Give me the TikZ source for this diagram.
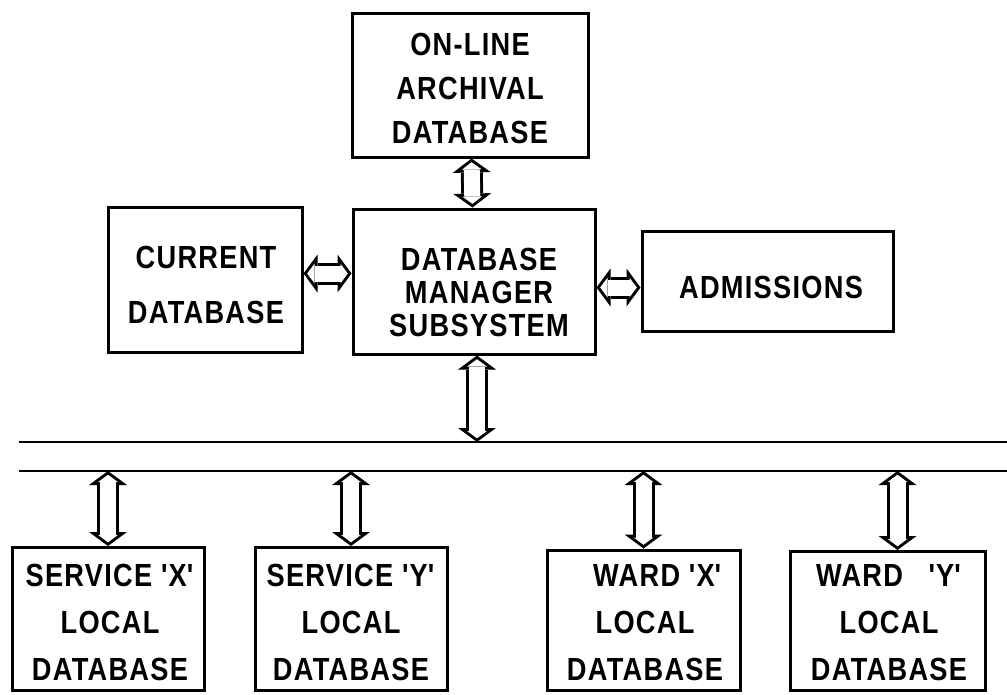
\documentclass[tikz,border=0pt]{standalone}
\usepackage{fontspec}
\setmainfont{Liberation Sans}[FakeStretch=0.85, LetterSpace=4]
\usetikzlibrary{arrows.meta, positioning}
\tikzset{
	unit/.style={rectangle, draw, line width=3pt, inner sep=0pt},
	caption/.style={align=center, inner sep=0pt, font=\bfseries\fontsize{32}{#1}\selectfont},
	caption/.default=46,
	% hollow two-headed arrow: black outline, white inside
	link/.style={line width=22pt,
		{Triangle[length=14pt, width=38pt, line width=0pt]}-{Triangle[length=14pt, width=38pt, line width=0pt]},
		postaction={draw=white, line width=16pt, shorten <=3.7pt, shorten >=3.7pt,
			{Triangle[length=7.3pt, width=19.7pt, line width=0pt]}-{Triangle[length=7.3pt, width=19.7pt, line width=0pt]}}},
	bus/.style={line width=2.6pt},
}
\newcommand{\q}{\textquotesingle}

\begin{document}
\begin{tikzpicture}[x=1pt, y=-1pt]
	\useasboundingbox (0,0) rectangle (1007,694);
	% central part
	\node[unit, minimum width=236pt, minimum height=144pt] (arch) at (470,85) {};
	\node[unit, minimum width=242pt, minimum height=145pt] (mgr) at (474,281.5) {};
	\node[unit, minimum width=194pt, minimum height=145pt] (cur) at (205,279.5) {};
	\node[unit, minimum width=251pt, minimum height=100pt] (adm) at (767.5,281) {};
	\node[caption=44] (arch-txt) at (470,88) {ON-LINE\\ARCHIVAL\\DATABASE};
	\node[caption=33] (mgr-txt) at (479,292) {DATABASE\\MANAGER\\SUBSYSTEM};
	\node[caption=55] (cur-txt) at (206,284.5) {CURRENT\\DATABASE};
	\node[caption] (adm-txt) at (771,287) {ADMISSIONS};
	% bus
	\coordinate (bustop) at (19,442);
	\coordinate (busbot) at (19,471);
	\draw[bus] (bustop) -- +(1000,0);
	\draw[bus] (busbot) -- +(1000,0);
	% local databases
	\node[unit, minimum width=192pt, minimum height=143pt] (sx) at (108,619) {};
	\node[unit, minimum width=192pt, minimum height=143pt] (sy) at (351,619) {};
	\node[unit, minimum width=193pt, minimum height=140pt] (wx) at (643.5,620) {};
	\node[unit, minimum width=195pt, minimum height=139pt] (wy) at (887.5,621) {};
	\node[caption=47] (sx-txt) at (110,622) {SERVICE \q X\q\\LOCAL\\DATABASE};
	\node[caption=47] (sy-txt) at (351,622) {SERVICE \q Y\q\\LOCAL\\DATABASE};
	\node[caption=47] (wx-txt) at (645,623) {\hspace{0.8em}WARD \q X\q\\LOCAL\\DATABASE};
	\node[caption=47] (wy-txt) at (889,623) {WARD\hspace{0.8em}\q Y\q\\LOCAL\\DATABASE};
	% connectors
	\draw[link] (arch) -- (mgr);
	\draw[link] ([yshift=6pt]cur.east) -- ([yshift=6pt]cur.east -| mgr.west);
	\draw[link] ([yshift=-6pt]mgr.east) -- ([yshift=-6pt]mgr.east -| adm.west);
	\draw[link] ([xshift=3pt]mgr.south) -- ([xshift=3pt]mgr.south |- bustop);
	\draw[link] (sx.north |- busbot) -- (sx);
	\draw[link] (sy.north |- busbot) -- (sy);
	\draw[link] (wx.north |- busbot) -- (wx);
	\draw[link] ([xshift=10pt]wy.north |- busbot) -- ([xshift=10pt]wy.north);
\end{tikzpicture}
\end{document}
